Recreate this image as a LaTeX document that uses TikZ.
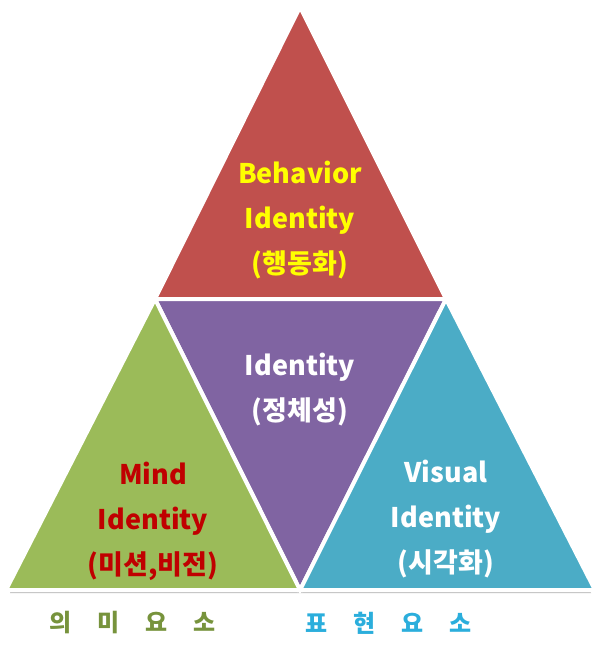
\documentclass[tikz,border=0pt]{standalone}
\usepackage{fontspec}
\setmainfont{Noto Sans CJK KR}
\usepackage{tikz}
\usetikzlibrary{positioning,calc}
\definecolor{RedPart}{HTML}{C0504D}
\definecolor{Violet}{HTML}{8064A2}
\definecolor{Olive}{HTML}{9BBB59}
\definecolor{Aqua}{HTML}{4BACC6}
\definecolor{Gold}{HTML}{FFFF00}
\definecolor{DarkRed}{HTML}{C00000}
\definecolor{OliveText}{HTML}{77933C}
\definecolor{AquaText}{HTML}{2BAEDC}
\tikzset{
 piece/.style={draw=white,line width=4pt,line join=miter},
 label/.style={align=center,font=\bfseries\fontsize{27}{45}\selectfont,inner sep=0pt},
 foot/.style={font=\bfseries\fontsize{24}{26}\selectfont,inner sep=0pt}
}

\begin{document}
\begin{tikzpicture}[x=1pt,y=-1pt]
\useasboundingbox (0,0) rectangle (600,650);
\fill[white] (0,0) rectangle (600,650);
% corners of the big triangle
\coordinate (apex) at (300,7);
\coordinate (bl) at (6,590);
\coordinate (br) at (595,590);
\coordinate (ml) at (155,299);
\coordinate (mr) at (446,299);
\coordinate (bm) at (300,590);
% soft shadow under the base
\fill[black!25] ($(bl)+(4,3)$) -- ($(br)+(-4,3)$) -- ($(br)+(-6,-2)$) -- ($(bl)+(6,-2)$) -- cycle;
\filldraw[piece,fill=RedPart] (apex) -- (mr) -- (ml) -- cycle;
\filldraw[piece,fill=Violet] (ml) -- (mr) -- (bm) -- cycle;
\filldraw[piece,fill=Olive] (ml) -- (bm) -- (bl) -- cycle;
\filldraw[piece,fill=Aqua] (mr) -- (br) -- (bm) -- cycle;
\node[label,text=Gold] (behav) at (300,220) {Behavior\\Identity\\(행동화)};
\node[label,text=white] (core) at (300,390) {Identity\\(정체성)};
\node[label,text=DarkRed] (mind) at (153,521) {Mind\\Identity\\(미션,비전)};
\node[label,text=white] (visual) at (446,519) {Visual\\Identity\\(시각화)};
% bottom captions
\node[foot,text=OliveText] (meaning) at (133,623) {의\hspace{1.08em}미\hspace{1.08em}요\hspace{1.08em}소};
\node[foot,text=AquaText] (express) at (389,623) {표\hspace{1.08em}현\hspace{1.08em}요\hspace{1.08em}소};
\end{tikzpicture}
\end{document}
